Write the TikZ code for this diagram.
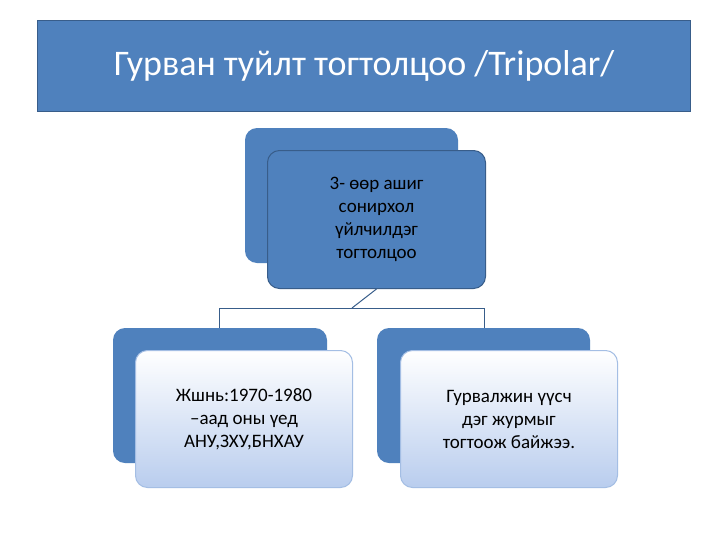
\documentclass[tikz,border=0pt]{standalone}
\usepackage{fontspec}
\setmainfont{Carlito}
\definecolor{acc}{HTML}{4F81BD}
\definecolor{accd}{HTML}{385D8A}
\definecolor{lb}{HTML}{B9CDEE}
\begin{document}
\begin{tikzpicture}[x=1pt,y=-1pt,
  back/.style={fill=acc,rounded corners=12pt},
  darkbox/.style={fill=acc,draw=accd,line width=1pt,rounded corners=12pt},
  lightbox/.style={top color=white,bottom color=lb,draw=lb!80!acc,line width=1pt,rounded corners=12pt},
  txt/.style={align=center,font=\fontsize{19}{23}\selectfont,text=black},
  conn/.style={draw=accd,line width=1pt}]
\useasboundingbox (0,0) rectangle (728,546);
\fill[white] (0,0) rectangle (728,546);
\node[fill=acc,draw=accd,line width=1.2pt,minimum width=653pt,minimum height=91pt,anchor=north west,inner sep=0pt] (title) at (37,20) {};
\node[text=white,font=\fontsize{36}{40}\selectfont] (tt) at (title.center) {Гурван туйлт тогтолцоо /Tripolar/};
\path[back] (245,128) rectangle (458,263);
\node[darkbox,minimum width=218pt,minimum height=138pt,anchor=north west] (top) at (267,150) {};
\node[txt] (toptxt) at (top.center) {3- өөр ашиг\\сонирхол\\үйлчилдэг\\тогтолцоо};
\path[back] (113,328) rectangle (327,463);
\path[back] (377,328) rectangle (590,463);
\node[lightbox,minimum width=217pt,minimum height=137pt,anchor=north west] (bl) at (135,350) {};
\node[txt] (bltxt) at (bl.center) {Жшнь:1970-1980\\–аад оны үед\\АНУ,ЗХУ,БНХАУ};
\node[lightbox,minimum width=217pt,minimum height=137pt,anchor=north west] (br) at (400,350) {};
\node[txt] (brtxt) at (br.center) {Гурвалжин үүсч\\дэг журмыг\\тогтоож байжээ.};
\coordinate (j) at (352,308);
\coordinate (l) at (219,308);
\coordinate (r) at (484,308);
\draw[conn] (top.south) -- (j);
\draw[conn] (l) -- (r);
\draw[conn] (l) -- (219,328);
\draw[conn] (r) -- (484,328);
\end{tikzpicture}
\end{document}
